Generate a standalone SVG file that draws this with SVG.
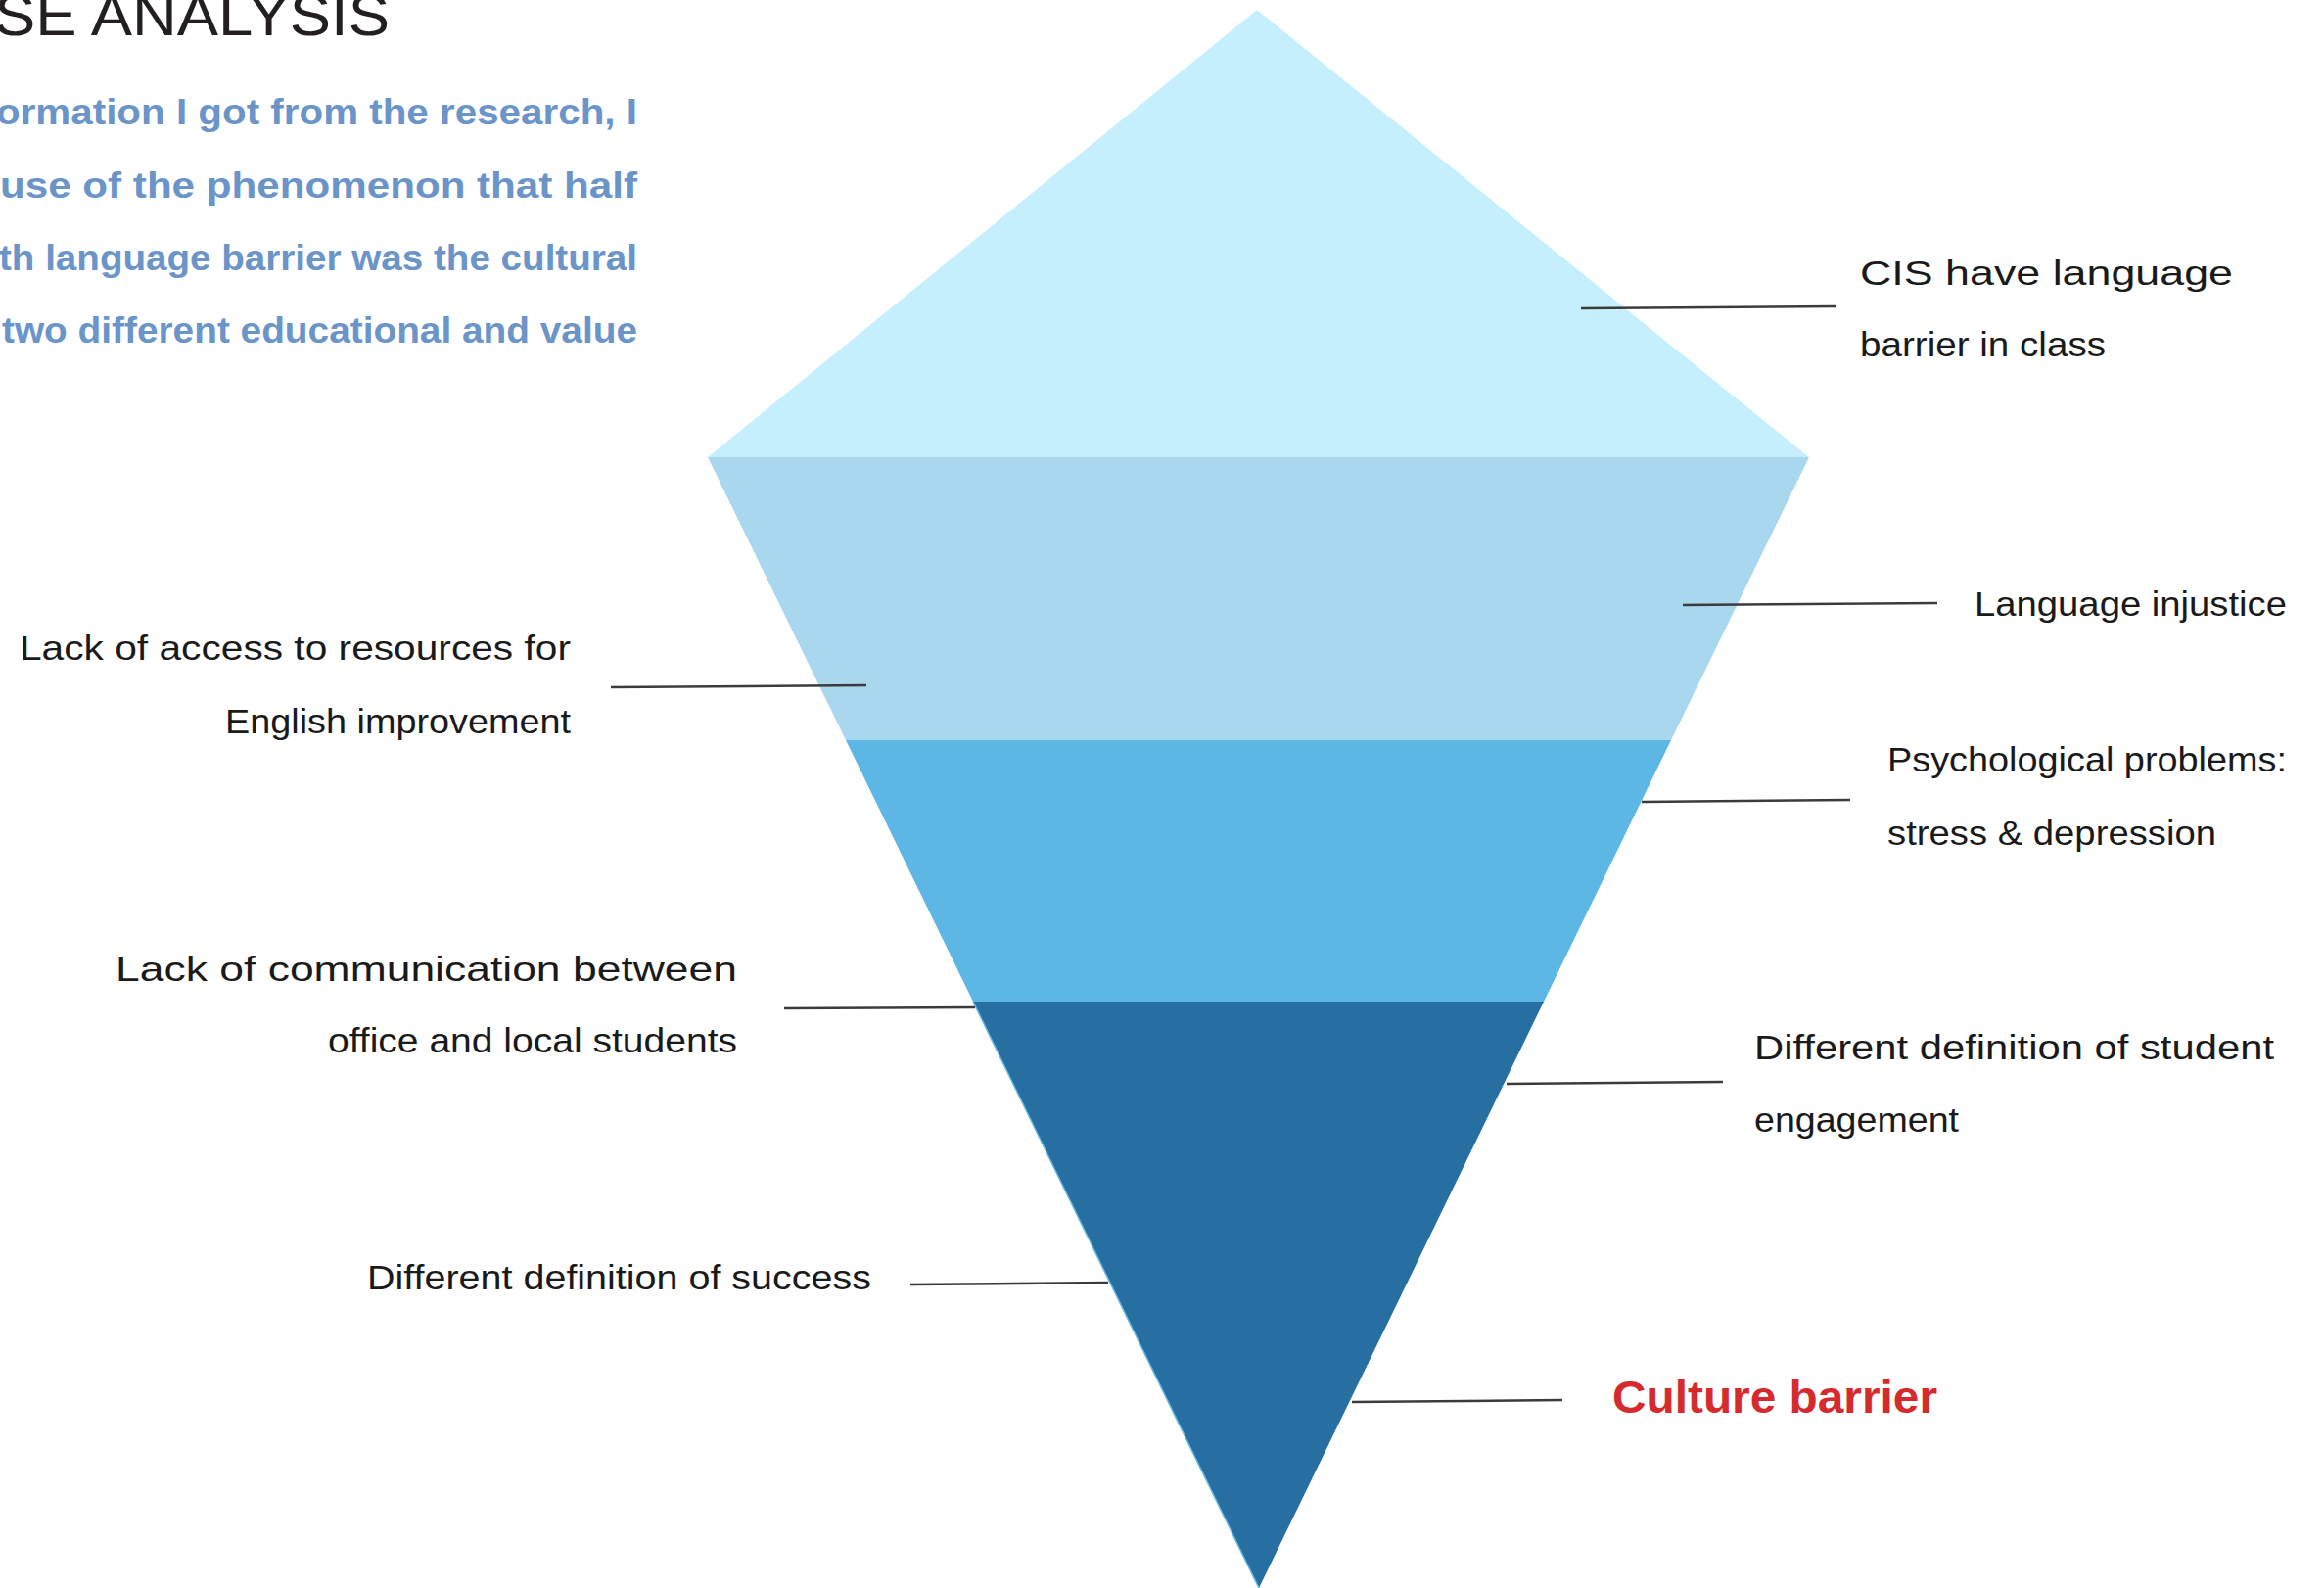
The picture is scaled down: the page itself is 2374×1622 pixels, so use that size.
<svg xmlns="http://www.w3.org/2000/svg" width="2374" height="1622" viewBox="0 0 2374 1622">
  <style>
    .title { font-family: "Liberation Sans", Arial, sans-serif; font-size: 60px; fill: #231f20; }
    .para { font-family: "Liberation Sans", Arial, sans-serif; font-size: 36px; font-weight: bold; fill: #6b94c9; }
    .lbl { font-family: "Liberation Sans", Arial, sans-serif; font-size: 35px; fill: #1a1a1a; }
    .key { font-family: "Liberation Sans", Arial, sans-serif; font-size: 46px; font-weight: bold; fill: #d62b2e; }
    .conn line { stroke: #3b3b3b; stroke-width: 2.5; }
  </style>

  <rect width="2374" height="1622" fill="#ffffff"/>

  <!-- heading and intro paragraph -->
  <g id="heading">
    <text class="title" x="-6" y="36" textLength="404" lengthAdjust="spacingAndGlyphs">SE ANALYSIS</text>
  </g>
  <g id="intro">
    <text class="para" x="-4" y="127" textLength="655" lengthAdjust="spacingAndGlyphs">ormation I got from the research, I</text>
    <text class="para" x="0" y="202" textLength="651" lengthAdjust="spacingAndGlyphs">use of  the phenomenon that half</text>
    <text class="para" x="-1" y="276" textLength="652" lengthAdjust="spacingAndGlyphs">th language barrier was the cultural</text>
    <text class="para" x="2" y="350" textLength="649" lengthAdjust="spacingAndGlyphs">two different educational and value</text>
  </g>

  <!-- iceberg layers -->
  <g id="layer-tip">
    <polygon points="1284,10 1848,467 723,467" fill="#c6effd"/>
  </g>
  <g id="layer-2">
    <polygon points="723,467 1848,467 1707,756 864,756" fill="#a9d7ee"/>
  </g>
  <g id="layer-3">
    <polygon points="864,756 1707,756 1577,1023 994,1023" fill="#5db7e5"/>
  </g>
  <g id="layer-base">
    <polygon points="994,1023 1577,1023 1286,1622" fill="#266fa0"/>
    <line x1="994" y1="1023" x2="1286" y2="1622" stroke="#5db7e5" stroke-width="1.5"/>
  </g>

  <!-- leader lines -->
  <g id="connectors" class="conn">
    <line x1="1615" y1="315" x2="1875" y2="313"/>
    <line x1="1719" y1="618" x2="1979" y2="616"/>
    <line x1="624" y1="702" x2="885" y2="700"/>
    <line x1="1677" y1="819" x2="1890" y2="817"/>
    <line x1="801" y1="1030" x2="996" y2="1029"/>
    <line x1="1539" y1="1107" x2="1760" y2="1105"/>
    <line x1="930" y1="1312" x2="1132" y2="1310"/>
    <line x1="1381" y1="1432" x2="1596" y2="1430"/>
  </g>

  <!-- labels -->
  <g id="label-cis">
    <text class="lbl" x="1900" y="291" textLength="381" lengthAdjust="spacingAndGlyphs">CIS have language</text>
    <text class="lbl" x="1900" y="364" textLength="251" lengthAdjust="spacingAndGlyphs">barrier in class</text>
  </g>
  <g id="label-injustice">
    <text class="lbl" x="2017" y="629" textLength="319" lengthAdjust="spacingAndGlyphs">Language injustice</text>
  </g>
  <g id="label-access">
    <text class="lbl" x="20" y="674" textLength="563" lengthAdjust="spacingAndGlyphs">Lack of access to resources for</text>
    <text class="lbl" x="230" y="749" textLength="353" lengthAdjust="spacingAndGlyphs">English improvement</text>
  </g>
  <g id="label-psych">
    <text class="lbl" x="1928" y="788" textLength="408" lengthAdjust="spacingAndGlyphs">Psychological problems:</text>
    <text class="lbl" x="1928" y="863" textLength="336" lengthAdjust="spacingAndGlyphs">stress &amp; depression</text>
  </g>
  <g id="label-communication">
    <text class="lbl" x="118" y="1002" textLength="635" lengthAdjust="spacingAndGlyphs">Lack of communication between</text>
    <text class="lbl" x="335" y="1075" textLength="418" lengthAdjust="spacingAndGlyphs">office and local students</text>
  </g>
  <g id="label-engagement">
    <text class="lbl" x="1792" y="1082" textLength="531" lengthAdjust="spacingAndGlyphs">Different definition of student</text>
    <text class="lbl" x="1792" y="1156" textLength="209" lengthAdjust="spacingAndGlyphs">engagement</text>
  </g>
  <g id="label-success">
    <text class="lbl" x="375" y="1317" textLength="515" lengthAdjust="spacingAndGlyphs">Different definition of success</text>
  </g>
  <g id="label-culture">
    <text class="key" x="1647" y="1443" textLength="332" lengthAdjust="spacingAndGlyphs">Culture barrier</text>
  </g>
</svg>
